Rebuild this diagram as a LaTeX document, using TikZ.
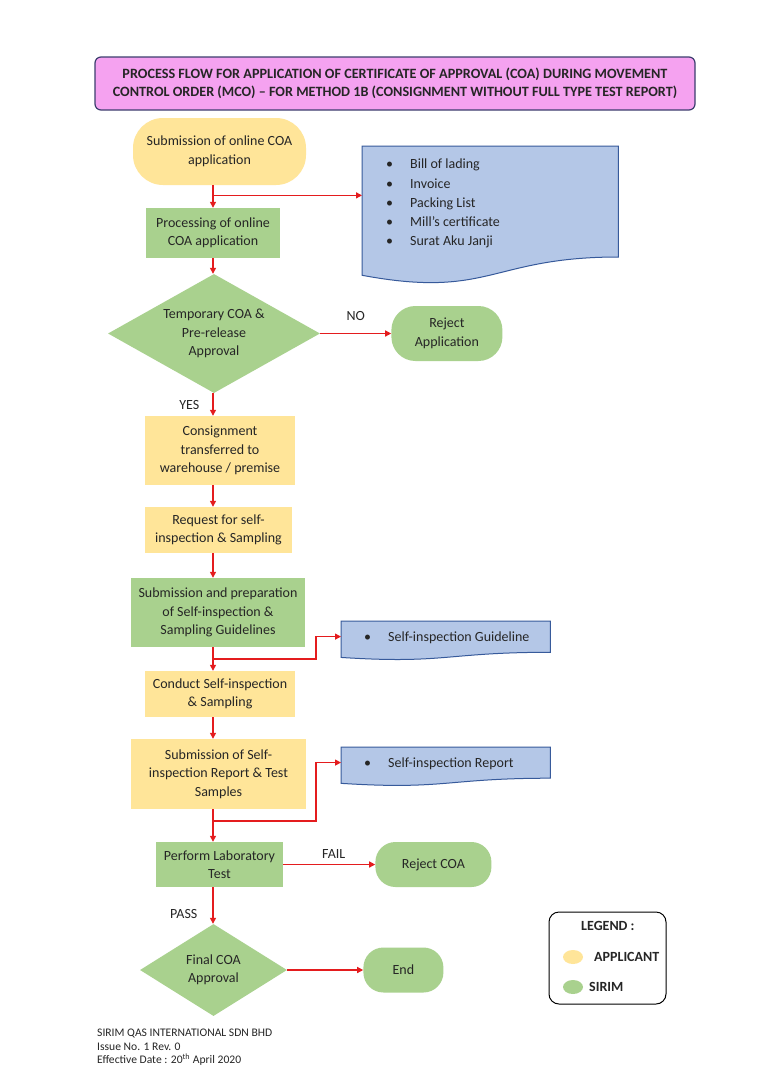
\documentclass[tikz,border=0pt]{standalone}
\usepackage{fontspec}
\setmainfont{Carlito}
\usetikzlibrary{positioning,shapes.geometric,arrows.meta,calc}

\definecolor{appyellow}{RGB}{255,229,153}
\definecolor{sirimgreen}{RGB}{169,209,142}
\definecolor{docblue}{RGB}{180,199,231}
\definecolor{docedge}{RGB}{55,90,155}
\definecolor{titlepink}{RGB}{245,162,240}
\definecolor{titleedge}{RGB}{60,62,110}
\definecolor{flowred}{RGB}{228,28,30}
\definecolor{inktext}{RGB}{38,38,38}

\tikzset{
  txt/.style={font=\fontsize{14}{18.5}\selectfont, text=inktext, align=center},
  applicant/.style={txt, fill=appyellow, inner sep=0pt},
  sirim/.style={txt, fill=sirimgreen, inner sep=0pt},
  decision/.style={sirim, diamond},
  docshape/.style={inner sep=0pt},
  doctext/.style={txt, align=left, inner sep=0pt, anchor=north west},
  lbl/.style={txt, inner sep=1pt},
  keytxt/.style={lbl, font=\bfseries\fontsize{14}{16}\selectfont, anchor=west},
  keydot/.style={ellipse, inner sep=0pt, minimum width=20pt, minimum height=14pt},
  flow/.style={draw=flowred, line width=1.3pt, -{Triangle[length=6pt,width=6pt]}},
}
\newcommand\itm[1]{\makebox[24pt][l]{•}#1}
\newcommand\docpath[1]{%
  \path[fill=docblue, draw=docedge, line width=1pt] (#1.north west) -- (#1.north east)
    -- ($(#1.south east)!0.198!(#1.north east)$)
    .. controls ($(#1.south)!0.198!(#1.north)$) and ($(#1.south)!-0.107!(#1.north)$)
    .. ($(#1.south west)!0.066!(#1.north west)$) -- cycle;}

\begin{document}
\begin{tikzpicture}[x=1pt,y=-1pt]
  \useasboundingbox[fill=white] (0,0) rectangle (762,1080);

  \node[txt, font=\bfseries\fontsize{14.2}{18}\selectfont, fill=titlepink, draw=titleedge, line width=1.2pt,
        rounded corners=6pt, minimum width=600pt, minimum height=53pt] (title) at (395,83.5)
        {PROCESS FLOW FOR APPLICATION OF CERTIFICATE OF APPROVAL (COA) DURING MOVEMENT\\
         CONTROL ORDER (MCO) – FOR METHOD 1B (CONSIGNMENT WITHOUT FULL TYPE TEST REPORT)};

  \node[applicant, rounded corners=30pt, minimum width=173pt, minimum height=67pt] (subm) at (219.5,151.5)
        {Submission of online COA\\application};
  \node[sirim, minimum width=134pt, minimum height=50pt] (proc) at (213,233)
        {Processing of online\\COA application};
  \node[decision, shape aspect=1.78, minimum width=212pt, minimum height=119pt] (tca) at (214,333.5)
        {Temporary COA \&\\Pre-release\\Approval};
  \node[sirim, rounded corners=24pt, minimum width=111pt, minimum height=55pt, right=71pt of tca] (rejapp)
        {Reject\\Application};
  \node[applicant, minimum width=150pt, minimum height=69pt] (consig) at (220,450.5)
        {Consignment\\transferred to\\warehouse / premise};
  \node[applicant, minimum width=147pt, minimum height=46pt] (req) at (218.5,530)
        {Request for self-\\inspection \& Sampling};
  \node[sirim, minimum width=174pt, minimum height=69pt] (prep) at (218,612.5)
        {Submission and preparation\\of Self-inspection \&\\Sampling Guidelines};
  \node[applicant, minimum width=150pt, minimum height=46pt] (conduct) at (220,694)
        {Conduct Self-inspection\\\& Sampling};
  \node[applicant, minimum width=175pt, minimum height=70pt] (subrep) at (218.5,774)
        {Submission of Self-\\inspection Report \& Test\\Samples};
  \node[sirim, minimum width=127pt, minimum height=45pt] (lab) at (219.5,864.5)
        {Perform Laboratory\\Test};
  \node[sirim, rounded corners=20pt, minimum width=116pt, minimum height=45pt, right=92pt of lab] (rejcoa)
        {Reject COA};
  \node[decision, shape aspect=1.6, minimum width=147pt, minimum height=92pt] (final) at (213.5,970)
        {Final COA\\Approval};
  \node[sirim, rounded corners=20pt, minimum width=80pt, minimum height=45pt, right=76pt of final] (endn)
        {End};

  \node[docshape, minimum width=256pt, minimum height=138pt, anchor=north west] (docs) at (362,146) {};
  \node[docshape, minimum width=209pt, minimum height=38.6pt, anchor=north west] (docb) at (341,621) {};
  \node[docshape, minimum width=209pt, minimum height=38.5pt, anchor=north west] (docc) at (341,747) {};
  \docpath{docs}
  \docpath{docb}
  \docpath{docc}
  \node[doctext, font=\fontsize{14}{19.25}\selectfont] (doclist) at (386,159)
        {\itm{Bill of lading}\\\itm{Invoice}\\\itm{Packing List}\\\itm{Mill’s certificate}\\\itm{Surat Aku Janji}};
  \node[doctext] (docbtxt) at (364,632) {\itm{Self-inspection Guideline}};
  \node[doctext] (docctxt) at (364,758) {\itm{Self-inspection Report}};

  \draw[flow] (subm.south -| proc) -- (proc.north);
  \coordinate (b1) at ($(subm.south -| proc)!0.45!(proc.north)$);
  \draw[flow] (b1) -- (b1 -| docs.west);
  \draw[flow] (proc.south) -- (proc.south |- tca.north);
  \draw[flow] (tca.east) -- (tca.east -| rejapp.west) node[lbl, pos=0.5, above=11pt] (no) {NO};
  \draw[flow] (tca.south -| proc) -- (consig.north -| proc) node[lbl, pos=0.5, left=12pt] (yes) {YES};
  \draw[flow] (consig.south -| proc) -- (req.north -| proc);
  \draw[flow] (req.south -| proc) -- (prep.north -| proc);
  \draw[flow] (prep.south -| proc) -- (conduct.north -| proc);
  \coordinate (b2) at ($(prep.south -| proc)!0.5!(conduct.north -| proc)$);
  \coordinate (b2e) at ($(docb.north west)!0.4!(docb.south west)$);
  \draw[flow] (b2) -| ($(b2e)+(-25,0)$) -- (b2e);
  \draw[flow] (conduct.south -| proc) -- (subrep.north -| proc);
  \draw[flow] (subrep.south -| proc) -- (lab.north -| proc);
  \coordinate (b3) at ($(subrep.south -| proc)!0.36!(lab.north -| proc)$);
  \coordinate (b3e) at ($(docc.north west)!0.4!(docc.south west)$);
  \draw[flow] (b3) -| ($(b3e)+(-25,0)$) -- (b3e);
  \draw[flow] (lab.east) -- (lab.east -| rejcoa.west) node[lbl, pos=0.55, above=4pt] (fail) {FAIL};
  \draw[flow] (lab.south -| proc) -- (final.north -| proc) node[lbl, pos=0.72, left=14pt] (pass) {PASS};
  \draw[flow] (final.east) -- (final.east -| endn.west);

  \node[draw=black, line width=1pt, rounded corners=10pt, minimum width=117pt, minimum height=92pt] (legend) at (607.5,958) {};
  \node[keytxt] (legendhd) at (580,926) {LEGEND :};
  \node[keydot, fill=appyellow] (keyapp) at (573,957) {};
  \node[keydot, fill=sirimgreen] (keysirim) at (573,987) {};
  \node[keytxt] (keyapptxt) at (593,957) {APPLICANT};
  \node[keytxt] (keysirimtxt) at (588,987) {SIRIM};

  \node[txt, font=\fontsize{11.6}{13.5}\selectfont, align=left, anchor=north west, inner sep=0pt] (footer) at (97,1029)
        {SIRIM QAS INTERNATIONAL SDN BHD\\Issue No. 1 Rev. 0\\Effective Date : 20\textsuperscript{th} April 2020};
\end{tikzpicture}
\end{document}
